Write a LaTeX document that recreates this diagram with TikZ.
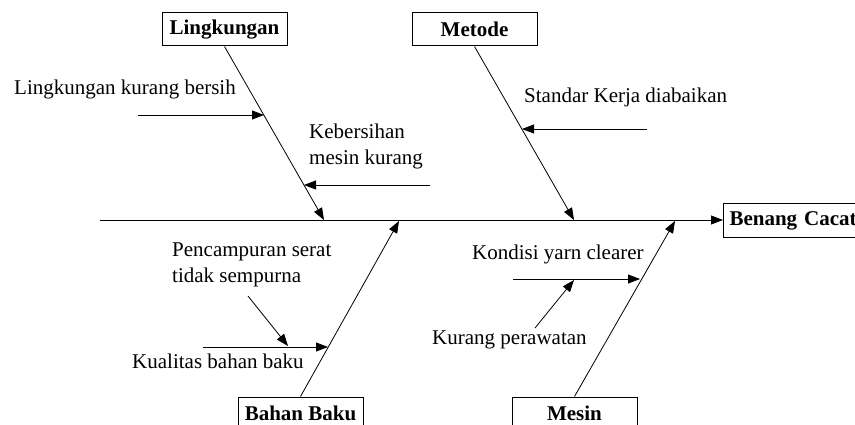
\documentclass[tikz,border=0pt]{standalone}
\usepackage{fontspec}
\setmainfont{Liberation Serif}
\usetikzlibrary{arrows.meta}
\begin{document}
\begin{tikzpicture}[x=1pt,y=-1pt,
  lbl/.style={anchor=base west, inner sep=0pt, font=\fontsize{21}{26}\selectfont},
  cat/.style={draw, line width=1pt, minimum width=125pt, minimum height=33pt, inner sep=0pt, font=\fontsize{21}{26}\selectfont\bfseries},
  arr/.style={line width=0.8pt, -{Triangle[length=12pt,width=9pt]}}]
\useasboundingbox (0,0) rectangle (855,425);
% category boxes
\node[cat] (ling) at (224.5,29.5) {Lingkungan};
\node[cat] (met) at (474.5,29.5) {Metode};
\node[cat] (bb) at (300.5,413.5) {Bahan Baku};
\node[cat] (mes) at (574.5,413.5) {Mesin};
\node[draw, line width=1pt, anchor=west, minimum height=34pt, inner xsep=6pt, inner ysep=0pt,
      text width=128pt, align=left,
      font=\fontsize{21}{26}\selectfont\bfseries] (eff) at (723,221) {Benang Cacat};
% spine
\coordinate (tail) at (100,220);
\draw[arr] (tail) -- (tail -| eff.west);
% bones
\coordinate (t1) at (324,220);
\coordinate (t2) at (574,220);
\coordinate (t3) at (399,221);
\coordinate (t4) at (675,221);
\draw[arr] (ling.south) -- (t1);
\draw[arr] (met.south) -- (t2);
\draw[arr] (bb.north) -- (t3);
\draw[arr] (mes.north) -- (t4);
% sub-cause arrows
\coordinate (a1s) at (138,115); \coordinate (a1e) at (264,115);
\coordinate (a2s) at (430,185); \coordinate (a2e) at (304,185);
\coordinate (a3s) at (647,129); \coordinate (a3e) at (522,129);
\coordinate (a4s) at (203,347); \coordinate (a4e) at (328,347);
\coordinate (a5s) at (248,296); \coordinate (a5e) at (288,346);
\coordinate (a6s) at (513,279); \coordinate (a6e) at (640,279);
\coordinate (a7s) at (535,328); \coordinate (a7e) at (574,280);
\draw[arr] (a1s) -- (a1e);
\draw[arr] (a2s) -- (a2e);
\draw[arr] (a3s) -- (a3e);
\draw[arr] (a4s) -- (a4e);
\draw[arr] (a5s) -- (a5e);
\draw[arr] (a6s) -- (a6e);
\draw[arr] (a7s) -- (a7e);
% labels
\node[lbl] (l1) at (14,95) {Lingkungan kurang bersih};
\node[lbl] (l2a) at (309,139) {Kebersihan};
\node[lbl] (l2b) at (309,165) {mesin kurang};
\node[lbl] (l3) at (524,103) {Standar Kerja diabaikan};
\node[lbl] (l4a) at (172,257) {Pencampuran serat};
\node[lbl] (l4b) at (172,283) {tidak sempurna};
\node[lbl] (l5) at (132,368) {Kualitas bahan baku};
\node[lbl] (l6) at (472,259) {Kondisi yarn clearer};
\node[lbl] (l7) at (432,344) {Kurang perawatan};
\end{tikzpicture}
\end{document}
